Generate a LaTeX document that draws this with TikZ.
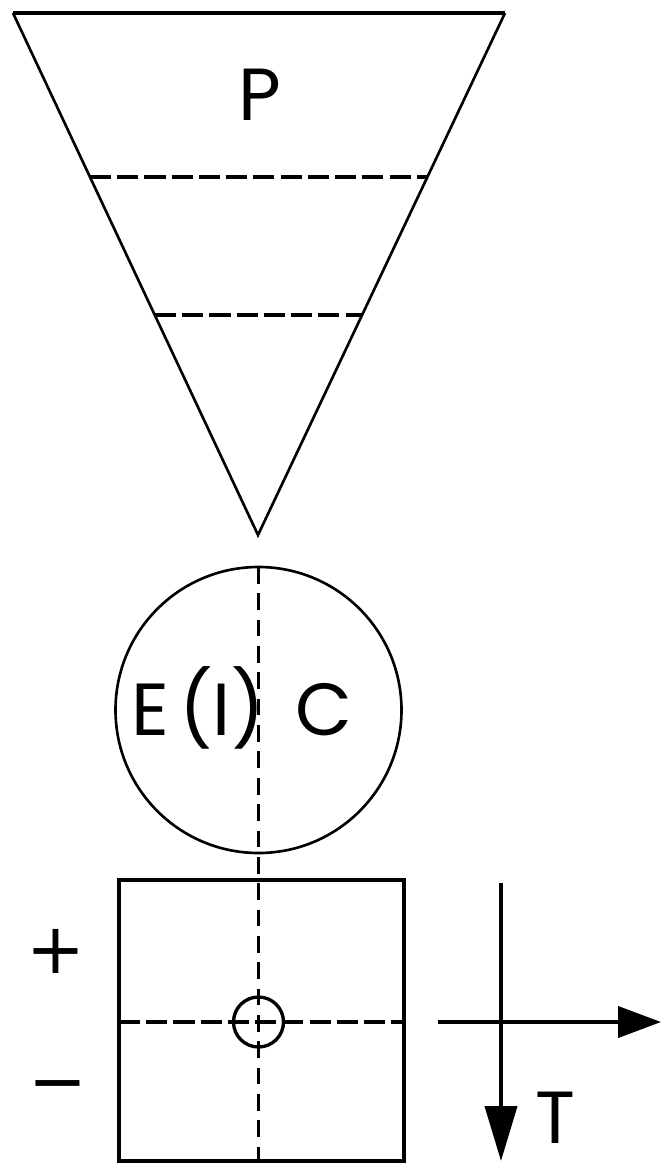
\documentclass[tikz,border=0pt]{standalone}
\usepackage{fontspec}
\setmainfont{Poppins}
\newfontfamily\signfont{DejaVu Sans}
\usetikzlibrary{arrows.meta}

\tikzset{
  side/.style={line width=1.5pt},
  cut/.style={line width=2.3pt, dash pattern=on 12pt off 3.5pt},
  axisdash/.style={line width=2.1pt, dash pattern=on 9.5pt off 5.5pt},
  letter/.style={font=\fontsize{42}{42}\selectfont, inner sep=0pt, anchor=base},
  sign/.style={font=\signfont\fontsize{40}{40}\selectfont, inner sep=0pt},
  axis/.style={line width=2.3pt},
}

\begin{document}
\begin{tikzpicture}[x=0.02cm, y=-0.02cm]
    \useasboundingbox (0,0) rectangle (662,1163);

    % funnel
    \draw[line width=2.6pt] (13,13) -- (505,13);
    \draw[side] (13,13) -- (258,535) -- (505,13);
    \draw[cut] (90,177) -- (427,177);
    \draw[cut] (155,315) -- (362,315);
    \node[letter] (p) at (260,120) {P};

    % circle
    \draw[side] (258.5,710) circle [radius=143];
    \draw[axisdash] (258.5,567) -- (258.5,1161);
    \node[letter] (e) at (150,735) {E};
    \node[letter] (i) at (222,735) {(I)};
    \node[letter] (c) at (324,735) {C};

    % square
    \draw[line width=2.3pt] (119,880) rectangle (404,1161);
    \draw[cut] (119,1022) -- (404,1022);
    \draw[line width=1.9pt] (258.5,1022) circle [radius=25];
    \node[sign] (plus) at (56,951) {+};
    \node[sign] (minus) at (58,1093) {−};

    % axes
    \coordinate (vtop) at (501,883);
    \coordinate (vtip) at (501,1161);
    \coordinate (hleft) at (438,1022);
    \coordinate (htip) at (661,1022);
    \draw[axis, -{Triangle[length=1.1cm, width=0.64cm]}] (vtop) -- (vtip);
    \draw[axis, -{Triangle[length=0.86cm, width=0.62cm]}] (hleft) -- (htip);
    \node[letter] (t) at (555,1143) {T};
\end{tikzpicture}
\end{document}
